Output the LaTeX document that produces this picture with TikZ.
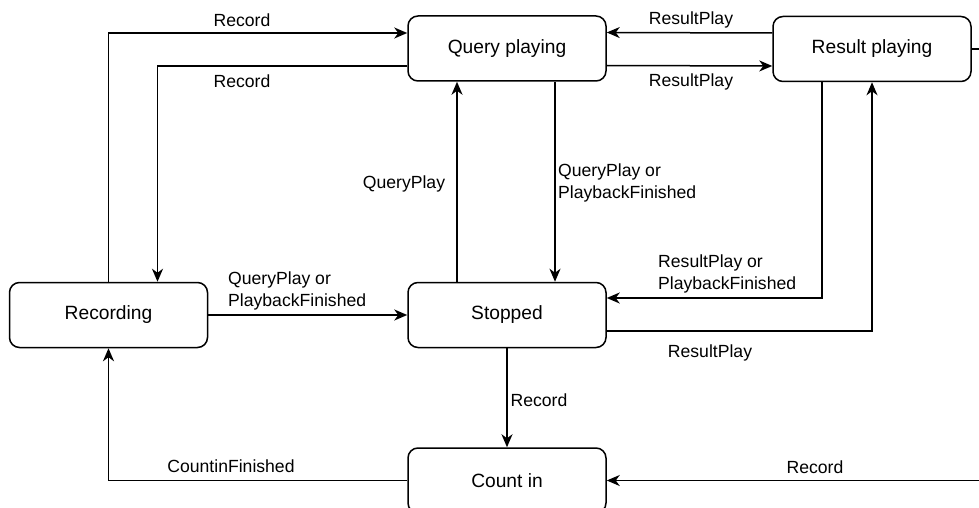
\documentclass[tikz,border=0pt]{standalone}
\usepackage{fontspec}
\setmainfont{Liberation Sans}
\usetikzlibrary{arrows.meta}
\begin{document}
\begin{tikzpicture}[x=1pt,y=-1pt,
  state/.style={draw, line width=1.5pt, rounded corners=10pt, minimum width=198pt, minimum height=65pt, inner sep=0pt, font=\fontsize{19.2}{23}\selectfont},
  lbl/.style={inner sep=0pt, font=\fontsize{17.6}{22}\selectfont},
  arr/.style={line width=1.5pt, -{Stealth[length=13pt,width=11pt,inset=4pt]}}]
\useasboundingbox (0,0) rectangle (979,508);
\node[state] (QP) at (507,48.5) {Query playing};
\node[state] (RP) at (872,49) {Result playing};
\node[state] (REC) at (108.5,315) {Recording};
\node[state] (ST) at (507,315) {Stopped};
\node[state] (CI) at (507,480.5) {Count in};
% edges
\draw[arr] (REC.north) |- ([yshift=15.5pt]QP.west);
\draw[arr] ([yshift=-17.5pt]QP.west) -| ([xshift=49pt]REC.north);
\draw[arr] ([yshift=16pt]RP.west) -- ([yshift=16pt]QP.east);
\draw[arr] ([yshift=-17pt]QP.east) -- ([yshift=-17pt]RP.west);
\draw[arr] ([xshift=-50pt]ST.north) -- ([xshift=-50pt]QP.south);
\draw[arr] ([xshift=48pt]QP.south) -- ([xshift=48pt]ST.north);
\draw[arr] ([xshift=-50pt]RP.south) |- ([yshift=17pt]ST.east);
\draw[arr] ([yshift=-16pt]ST.east) -| (RP.south);
\draw[arr] (REC.east) -- (ST.west);
\draw[arr] (ST.south) -- (CI.north);
\draw[arr] (CI.west) -| (REC.south);
\draw[arr] (RP.east) -- ++(20,0) coordinate (rpo) |- (CI.east);
% labels
\node[lbl] (l1) at (242,20) {Record};
\node[lbl] (l2) at (242,81) {Record};
\node[lbl] (l3) at (691,20) {ResultPlay};
\node[lbl] (l4) at (691,82) {ResultPlay};
\node[lbl] (l5) at (404,184) {QueryPlay};
\node[lbl, align=left, anchor=west] (l6) at (558,183) {QueryPlay or\\PlaybackFinished};
\node[lbl, align=left, anchor=west] (l7) at (658,274) {ResultPlay or\\PlaybackFinished};
\node[lbl, align=left, anchor=west] (l8) at (228,291) {QueryPlay or\\PlaybackFinished};
\node[lbl] (l9) at (710,353) {ResultPlay};
\node[lbl] (l10) at (539,400) {Record};
\node[lbl] (l11) at (231,466) {CountinFinished};
\node[lbl] (l12) at (815,467) {Record};
\end{tikzpicture}
\end{document}
